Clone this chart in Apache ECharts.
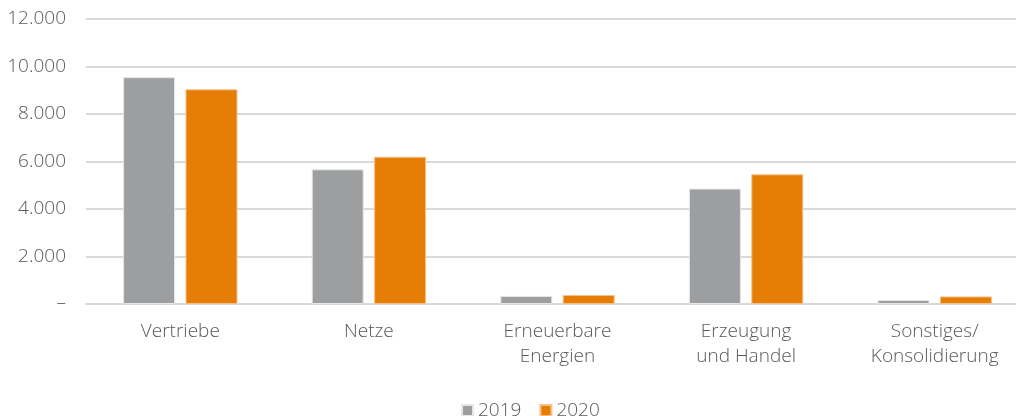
<!DOCTYPE html>
<html>
<head>
<meta charset="utf-8">
<script src="https://cdn.jsdelivr.net/npm/echarts@6/dist/echarts.min.js"></script>
<style>
  html, body { margin: 0; padding: 0; background: #fff; }
  #container { width: 1016px; height: 416px; }
</style>
</head>
<body>
<div id="container"></div>
<script>
var categories = ['Vertriebe', 'Netze', 'Erneuerbare\nEnergien', 'Erzeugung\nund Handel', 'Sonstiges/\nKonsolidierung'];
var seriesNames = ['2019', '2020'];
var values2019 = [9550, 5670, 340, 4860, 170];
var values2020 = [9040, 6200, 380, 5460, 320];

var chart = echarts.init(document.getElementById('container'));
var font = '"Open Sans", sans-serif';

function fmt(v){
  if(v === 0) return '–';
  return String(v).replace(/\B(?=(\d{3})+(?!\d))/g, '.');
}

var option = {
  animation: false,
  textStyle: { fontFamily: font },
  legend: {
    data: seriesNames,
    left: 456,
    top: 396,
    itemWidth: 11,
    itemHeight: 11,
    itemGap: 18,
    icon: 'rect',
    textStyle: { fontSize: 19, color: '#595959', fontWeight: 300, fontFamily: font }
  },
  grid: { left: 86, top: 19, width: 943, height: 285, containLabel: false, outerBoundsMode: 'none' },
  xAxis: {
    type: 'category',
    data: categories,
    axisLine: { lineStyle: { color: '#d9d9d9', width: 2 } },
    axisTick: { show: false },
    axisLabel: {
      color: '#595959', fontSize: 19, fontWeight: 300, fontFamily: font,
      margin: 15, lineHeight: 25
    }
  },
  yAxis: {
    type: 'value',
    min: 0, max: 12000, interval: 2000,
    axisLine: { show: false },
    axisTick: { show: false },
    splitLine: { lineStyle: { color: '#d9d9d9', width: 2 } },
    axisLabel: {
      color: '#595959', fontSize: 19, fontWeight: 300, fontFamily: font,
      margin: 20, formatter: fmt
    }
  },
  series: [
    { name: '2019', type: 'bar', data: values2019, barWidth: 52, barGap: '20%',
      itemStyle: { color: '#9d9ea0', borderColor: '#e6e6e6', borderWidth: 1 } },
    { name: '2020', type: 'bar', data: values2020, barWidth: 52,
      itemStyle: { color: '#e67e05', borderColor: '#f6c28a', borderWidth: 1 } }
  ]
};
chart.setOption(option);
</script>
</body>
</html>
